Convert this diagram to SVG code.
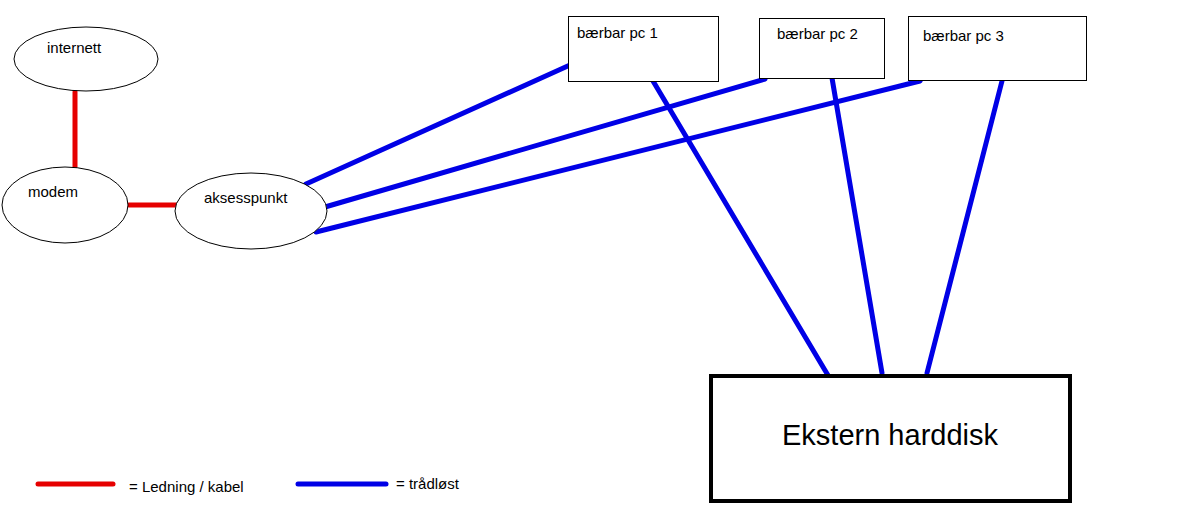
<svg xmlns="http://www.w3.org/2000/svg" width="1202" height="520" viewBox="0 0 1202 520">
<style>
.n{fill:#fff;stroke:#000;stroke-width:1}
.t{font-family:"Liberation Sans",Arial,sans-serif;font-size:15px;fill:#000}
.r{stroke:#e60000;stroke-width:5;stroke-linecap:round;fill:none}
.b{stroke:#0000e6;stroke-width:5;stroke-linecap:round;fill:none}
</style>
<rect width="1202" height="520" fill="#fff"/>
<g id="connectors">
<line class="r" x1="75" y1="92" x2="75" y2="167"/>
<line class="r" x1="129" y1="205" x2="177" y2="205"/>
<line class="b" x1="306" y1="184" x2="570" y2="65"/>
<line class="b" x1="325" y1="207" x2="765" y2="79"/>
<line class="b" x1="316" y1="232" x2="920" y2="81"/>
<line class="b" x1="653" y1="81" x2="829" y2="377"/>
<line class="b" x1="832" y1="78" x2="882" y2="373"/>
<line class="b" x1="1002" y1="81" x2="927" y2="373"/>
</g>
<g id="internett">
<ellipse class="n" cx="86" cy="59" rx="72" ry="32"/>
<text class="t" x="47" y="53">internett</text>
</g>
<g id="modem">
<ellipse class="n" cx="65" cy="205" rx="63" ry="38"/>
<text class="t" x="28" y="197">modem</text>
</g>
<g id="aksesspunkt">
<ellipse class="n" cx="251" cy="211" rx="76" ry="38"/>
<text class="t" x="204" y="203">aksesspunkt</text>
</g>
<g id="pc1">
<rect class="n" x="568.5" y="16.5" width="150" height="65"/>
<text class="t" x="577" y="38">bærbar pc 1</text>
</g>
<g id="pc2">
<rect class="n" x="759.5" y="18.5" width="125" height="60"/>
<text class="t" x="777" y="39">bærbar pc 2</text>
</g>
<g id="pc3">
<rect class="n" x="908.5" y="16.5" width="178" height="64"/>
<text class="t" x="923" y="41">bærbar pc 3</text>
</g>
<g id="disk">
<rect x="711" y="376" width="359" height="125" fill="#fff" stroke="#000" stroke-width="4"/>
<text x="890" y="445" text-anchor="middle" font-family="'Liberation Sans',Arial,sans-serif" font-size="29" fill="#000">Ekstern harddisk</text>
</g>
<g id="legend">
<line class="r" x1="38" y1="484" x2="113" y2="484"/>
<text class="t" x="129" y="492">= Ledning / kabel</text>
<line class="b" x1="298" y1="484" x2="386" y2="484"/>
<text class="t" x="396" y="489">= trådløst</text>
</g>
</svg>
